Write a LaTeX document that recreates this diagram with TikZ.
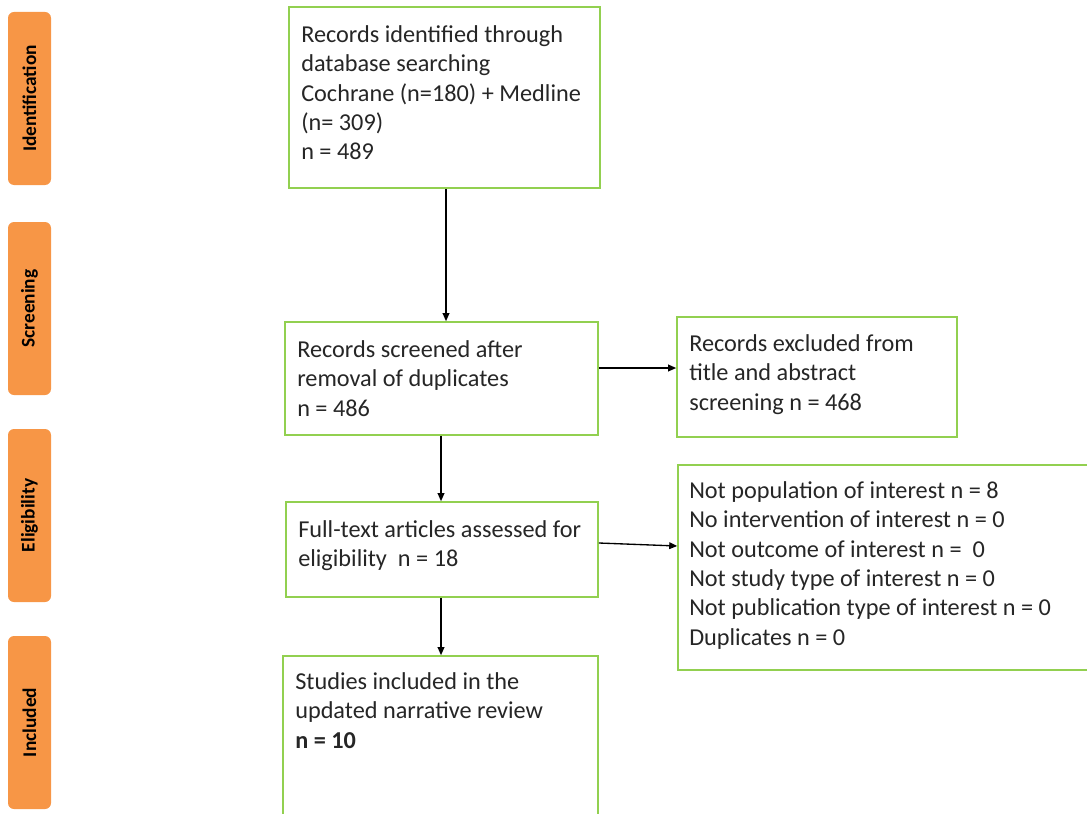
\documentclass[tikz,border=0pt]{standalone}
\usepackage{fontspec}
\setmainfont{Carlito}
\usetikzlibrary{arrows.meta}
\newdimen\px \px=0.75pt
\definecolor{boxgreen}{HTML}{92D050}
\definecolor{taborange}{HTML}{F79646}
\definecolor{txt}{HTML}{262626}
\begin{document}
\begin{tikzpicture}[x=0.75pt,y=-0.75pt,
  box/.style={draw=boxgreen, line width=1.6\px, fill=white, inner sep=0pt, rectangle},
  tab/.style={fill=taborange, rounded corners=6\px, minimum width=43\px, minimum height=173\px, inner sep=0pt},
  tabtext/.style={rotate=90, font=\fontsize{14.5pt}{16pt}\selectfont\bfseries, text=black},
  btext/.style={anchor=north west, align=left, inner sep=0pt, text=txt, font=\fontsize{18.2pt}{22.1pt}\selectfont},
  arr/.style={-{Triangle[length=6pt,width=5pt]}, line width=1pt, black}]
\useasboundingbox (0,0) rectangle (1087,813);
\clip (0,0) rectangle (1087,813);
% phase tabs
\node[tab] (t1) at (29.5,98.5) {};
\node[tabtext] (t1l) at (t1.center) {Identification};
\node[tab] (t2) at (29.5,308.5) {};
\node[tabtext] (t2l) at (t2.center) {Screening};
\node[tab] (t3) at (29.5,515.5) {};
\node[tabtext] (t3l) at (t3.center) {Eligibility};
\node[tab] (t4) at (29.5,722.5) {};
\node[tabtext] (t4l) at (t4.center) {Included};
% boxes
\node[box, minimum width=311\px, minimum height=181\px] (b1) at (444.5,97.5) {};
\node[btext] (b1t) at (301,25) {Records identified through\\database searching\\Cochrane (n=180) + Medline\\(n= 309)\\n = 489};
\node[box, minimum width=313\px, minimum height=113\px] (b2) at (441.5,378.5) {};
\node[btext] (b2t) at (297,340) {Records screened after\\removal of duplicates\\n = 486};
\node[box, minimum width=280\px, minimum height=120\px] (b3) at (817,377) {};
\node[btext] (b3t) at (689,334) {Records excluded from\\title and abstract\\screening n = 468};
\node[box, minimum width=312\px, minimum height=95\px] (b4) at (442,549.5) {};
\node[btext] (b4t) at (298,520) {Full-text articles assessed for\\eligibility~ n = 18};
\node[box, minimum width=414\px, minimum height=205\px] (b5) at (885,567.5) {};
\node[btext] (b5t) at (689,481) {Not population of interest n = 8\\No intervention of interest n = 0\\Not outcome of interest n = ~0\\Not study type of interest n = 0\\Not publication type of interest n = 0\\Duplicates n = 0};
\node[box, minimum width=315\px, minimum height=164\px] (b6) at (440.5,738) {};
\node[btext] (b6t) at (295,672) {Studies included in the\\updated narrative review\\\textbf{n = 10}};
% guide coordinates
\coordinate (x446) at (446,0);
\coordinate (x441) at (441,0);
\coordinate (y368) at (0,368);
\coordinate (y543) at (0,543);
\coordinate (y546) at (0,546);
% connectors
\draw[arr] (b1.south -| x446) -- (b2.north -| x446);
\draw[arr] (b2.east |- y368) -- (b3.west |- y368);
\draw[arr] (b2.south -| x441) -- (b4.north -| x441);
\draw[arr] (b4.east |- y543) -- (b5.west |- y546);
\draw[arr] (b4.south -| x441) -- (b6.north -| x441);
\end{tikzpicture}
\end{document}
